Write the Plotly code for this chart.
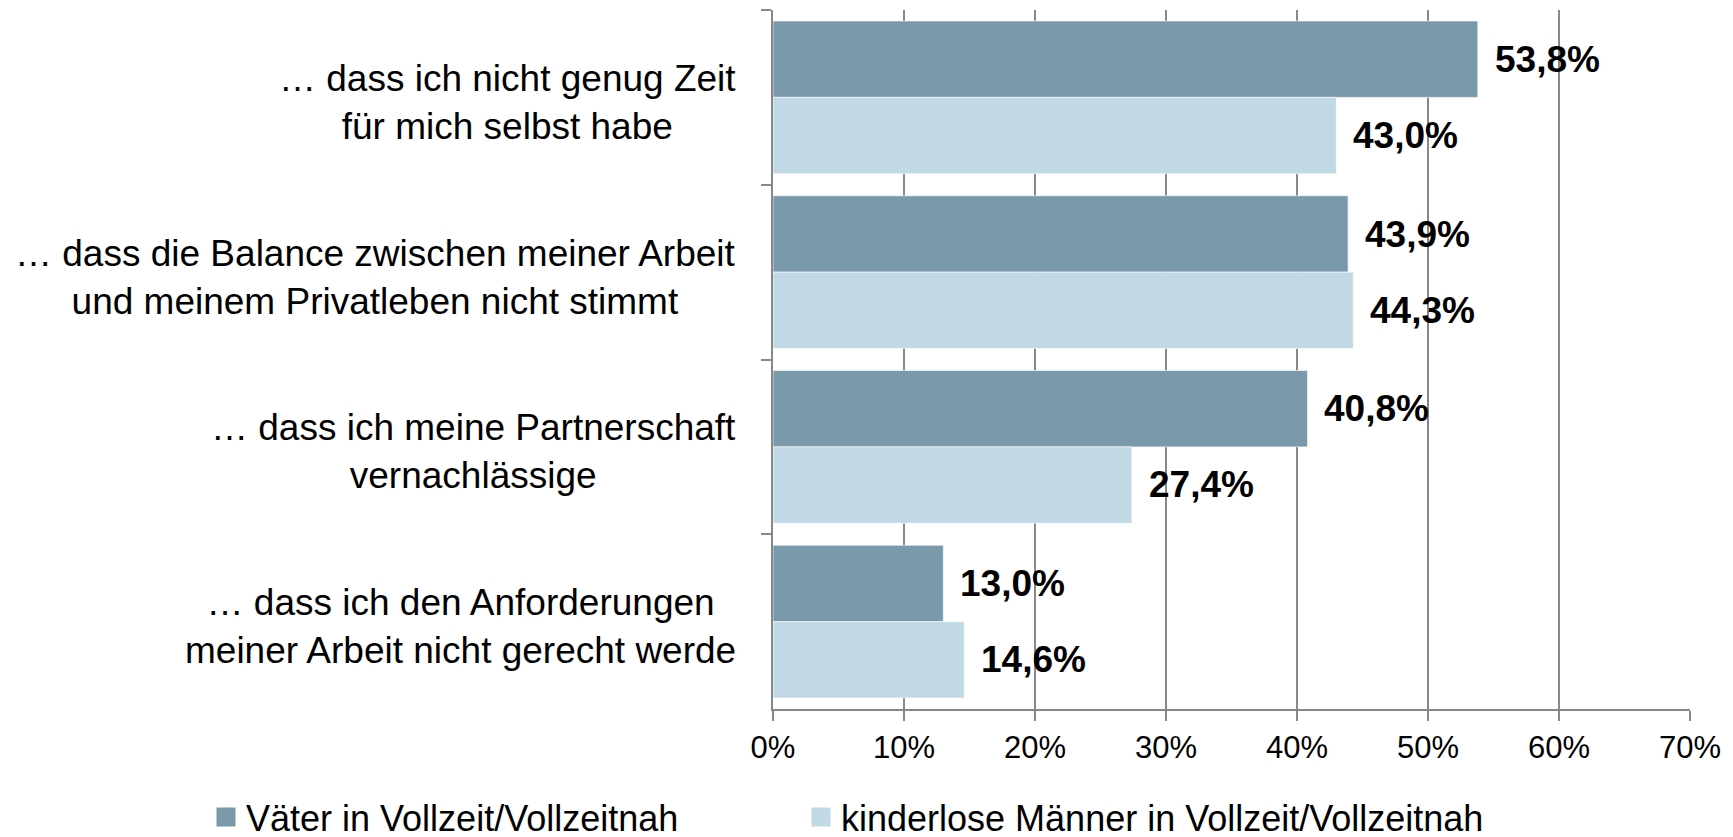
import plotly.graph_objects as go

categories = [
    "… dass ich nicht genug Zeit<br>für mich selbst habe",
    "… dass die Balance zwischen meiner Arbeit<br>und meinem Privatleben nicht stimmt",
    "… dass ich meine Partnerschaft<br>vernachlässige",
    "… dass ich den Anforderungen<br>meiner Arbeit nicht gerecht werde",
]
series_names = ["Väter in Vollzeit/Vollzeitnah", "kinderlose Männer in Vollzeit/Vollzeitnah"]
vaeter = [53.8, 43.9, 40.8, 13.0]
kinderlose = [43.0, 44.3, 27.4, 14.6]
x_ticks = [0, 10, 20, 30, 40, 50, 60, 70]

DARK = "#7a99aa"
LIGHT = "#c1d9e5"
GRID = "#888888"
FONT = "Liberation Sans, Arial, sans-serif"

W, H = 1733, 837
L, R, T, B = 773, 43, 10, 128
plot_w = W - L - R

fig = go.Figure()
legend_refs = ["legend", "legend2"]
for name, vals, col, lg in [(series_names[0], vaeter, DARK, legend_refs[0]),
                            (series_names[1], kinderlose, LIGHT, legend_refs[1])]:
    fig.add_trace(go.Bar(
        y=categories, x=vals, orientation="h", name=name,
        marker=dict(color=col, line=dict(color="rgba(255,255,255,0.6)", width=1)),
        showlegend=False, hoverinfo="skip",
    ))
    # legend proxy with larger square symbol
    fig.add_trace(go.Scatter(
        x=[None], y=[None], mode="markers", name=name, legend=lg,
        marker=dict(symbol="square", size=16, color=col, line=dict(color=col, width=3)),
        showlegend=True, hoverinfo="skip",
    ))

def fmt(v):
    return f"{v:.1f}".replace(".", ",") + "%"

annotations = []
for i, cat in enumerate(categories):
    annotations.append(dict(
        x=-35 / plot_w, xref="paper", y=cat, yref="y", yshift=-5,
        text=cat, showarrow=False, xanchor="right", yanchor="middle",
        align="center", font=dict(family=FONT, size=37, color="#000000"),
    ))
    for vals, shift in [(vaeter, 38), (kinderlose, -38)]:
        annotations.append(dict(
            x=vals[i], xref="x", y=cat, yref="y", yshift=shift, xshift=15,
            text="<b>" + fmt(vals[i]) + "</b>", showarrow=False,
            xanchor="left", yanchor="middle",
            font=dict(family=FONT, size=37, color="#000000"),
        ))

legend_common = dict(
    orientation="h", xref="container", yref="container",
    xanchor="left", y=(H - 817) / H, yanchor="middle",
    font=dict(family=FONT, size=36, color="#000000"),
    bgcolor="rgba(0,0,0,0)",
)

fig.update_layout(
    width=W, height=H,
    margin=dict(l=L, r=R, t=T, b=B, pad=0, autoexpand=False),
    paper_bgcolor="white", plot_bgcolor="white",
    barmode="group", bargap=0.126, bargroupgap=0,
    font=dict(family=FONT, size=36, color="#000000"),
    annotations=annotations,
    legend=dict(x=206 / W, **legend_common),
    legend2=dict(x=801 / W, **legend_common),
    xaxis=dict(
        range=[0, 70], tickvals=x_ticks, ticktext=[f"{t}%" for t in x_ticks],
        showgrid=True, gridcolor=GRID, gridwidth=2,
        showline=True, linecolor=GRID, linewidth=2,
        ticks="outside", ticklen=10, tickcolor=GRID, tickwidth=2,
        zeroline=False, ticklabelstandoff=0,
        tickfont=dict(family=FONT, size=31, color="#000000"),
    ),
    yaxis=dict(
        autorange="reversed", showticklabels=False,
        showline=True, linecolor=GRID, linewidth=2,
        ticks="outside", ticklen=10, tickcolor=GRID, tickwidth=2,
        tickson="boundaries", showgrid=False, zeroline=False,
    ),
)

fig.write_html(
    "out.html",
    config={"displayModeBar": False},
    post_script="document.body.style.margin='0';document.body.style.overflow='hidden';",
)
